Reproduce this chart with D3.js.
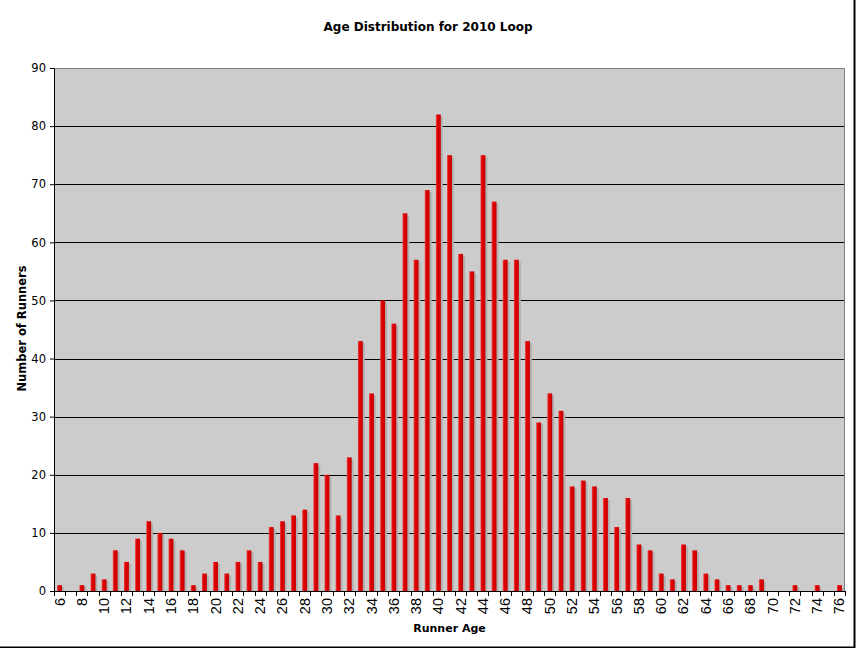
<!DOCTYPE html>
<html>
<head>
<meta charset="utf-8">
<script src="https://cdn.jsdelivr.net/npm/d3@7"></script>
<style>
  body { margin: 0; background: #fff; }
  svg { display: block; }
</style>
</head>
<body>
<script>
// runner ages and how many runners of each age
var ages = d3.range(6, 77);
var runners = [1, 0, 1, 3, 2, 7, 5, 9, 12, 10, 9, 7, 1, 3, 5, 3, 5, 7, 5, 11,
               12, 13, 14, 22, 20, 13, 23, 43, 34, 50, 46, 65, 57, 69, 82, 75, 58, 55, 75, 67,
               57, 57, 43, 29, 34, 31, 18, 19, 18, 16, 11, 16, 8, 7, 3, 2, 8, 7, 3, 2,
               1, 1, 1, 2, 0, 0, 1, 0, 1, 0, 1];
var yTicks = [0, 10, 20, 30, 40, 50, 60, 70, 80, 90];
var titleText = "Age Distribution for 2010 Loop";
var xTitle = "Runner Age";
var yTitle = "Number of Runners";

var data = ages.map(function(a, i) { return {age: a, count: runners[i]}; });

// dimensions of the picture and of the plot area
var W = 856, H = 648;
var margin = {top: 68, right: 11, bottom: 57, left: 54},
    width = W - margin.left - margin.right,
    height = H - margin.top - margin.bottom;

var svg = d3.select("body").append("svg")
    .attr("width", W)
    .attr("height", H);

var defs = svg.append("defs");
var grad = defs.append("linearGradient").attr("id", "barGrad")
    .attr("x1", "0%").attr("x2", "100%").attr("y1", "0%").attr("y2", "0%");
grad.append("stop").attr("offset", "0%").attr("stop-color", "#e85050");
grad.append("stop").attr("offset", "30%").attr("stop-color", "#e00000");
grad.append("stop").attr("offset", "100%").attr("stop-color", "#c80000");

// scales
var x = d3.scaleBand().domain(ages).range([0, width])
    .paddingInner(0.56).paddingOuter(0.28);
var y = d3.scaleLinear().domain([0, 90]).range([height, 0]);

var g = svg.append("g")
    .attr("transform", "translate(" + margin.left + "," + margin.top + ")");

// plot background
g.append("rect")
    .attr("width", width).attr("height", height)
    .attr("fill", "#cccccc");

// grid lines
g.selectAll(".grid")
    .data(yTicks.filter(function(d) { return d > 0 && d < 90; }))
  .enter().append("line")
    .attr("x1", 0).attr("x2", width)
    .attr("y1", function(d) { return Math.round(y(d)) + 0.5; })
    .attr("y2", function(d) { return Math.round(y(d)) + 0.5; })
    .attr("stroke", "#000").attr("stroke-width", 1);

// top and right plot border
g.append("path")
    .attr("d", "M0,0.5H" + (width - 0.5) + "V" + height)
    .attr("fill", "none").attr("stroke", "#808080");

// bar shadows
g.selectAll(".shadow")
    .data(data.filter(function(d) { return d.count > 0; }))
  .enter().append("rect")
    .attr("x", function(d) { return x(d.age) + 2; })
    .attr("y", function(d) { return y(d.count) + 2; })
    .attr("width", x.bandwidth())
    .attr("height", function(d) { return height - y(d.count) - 2; })
    .attr("fill", "#b0b0b0");

// bars
g.selectAll(".bar")
    .data(data.filter(function(d) { return d.count > 0; }))
  .enter().append("rect")
    .attr("x", function(d) { return x(d.age); })
    .attr("y", function(d) { return y(d.count); })
    .attr("width", x.bandwidth())
    .attr("height", function(d) { return height - y(d.count); })
    .attr("fill", "url(#barGrad)");

// Y axis
var yAxis = g.append("g")
    .call(d3.axisLeft(y).tickValues(yTicks).tickSize(4).tickPadding(4));
yAxis.select(".domain").attr("stroke", "#000");
yAxis.selectAll("text")
    .attr("font-family", "DejaVu Sans, Verdana, sans-serif")
    .attr("font-size", "11.5px").attr("fill", "#000");

// X axis: ticks on the band edges, labels on every other age
var step = x.step();
var edges = d3.range(ages.length + 1).map(function(i) { return i * step; });
var xAxis = g.append("g").attr("transform", "translate(0," + height + ")");
xAxis.append("line")
    .attr("x1", 0).attr("x2", width).attr("y1", 0.5).attr("y2", 0.5)
    .attr("stroke", "#000");
xAxis.selectAll(".tick")
    .data(edges)
  .enter().append("line")
    .attr("x1", function(d) { return Math.round(d) + 0.5; })
    .attr("x2", function(d) { return Math.round(d) + 0.5; })
    .attr("y1", 0).attr("y2", 5)
    .attr("stroke", "#000");
xAxis.selectAll(".lbl")
    .data(ages.filter(function(a) { return a % 2 === 0; }))
  .enter().append("text")
    .attr("transform", function(d) {
      return "translate(" + (x(d) + x.bandwidth() / 2 + 5) + ",7) rotate(-90)";
    })
    .attr("text-anchor", "end")
    .attr("font-family", "Liberation Sans, Arial, sans-serif")
    .attr("font-size", "14.5px")
    .text(function(d) { return d; });

// titles
svg.append("text")
    .attr("x", 428).attr("y", 31)
    .attr("text-anchor", "middle")
    .attr("font-family", "DejaVu Sans, Verdana, sans-serif")
    .attr("font-weight", "bold").attr("font-size", "12px")
    .text(titleText);

svg.append("text")
    .attr("x", margin.left + width / 2).attr("y", 632)
    .attr("text-anchor", "middle")
    .attr("font-family", "DejaVu Sans, Verdana, sans-serif")
    .attr("font-weight", "bold").attr("font-size", "11px")
    .text(xTitle);

svg.append("text")
    .attr("transform", "translate(26," + (margin.top + height / 2 - 1) + ") rotate(-90)")
    .attr("text-anchor", "middle")
    .attr("font-family", "DejaVu Sans, Verdana, sans-serif")
    .attr("font-weight", "bold").attr("font-size", "11.5px")
    .text(yTitle);

// outer frame on the right and bottom
svg.append("path")
    .attr("d", "M854.5,0V647.5H0")
    .attr("fill", "none").attr("stroke", "#000").attr("stroke-width", 2);
</script>
</body>
</html>
